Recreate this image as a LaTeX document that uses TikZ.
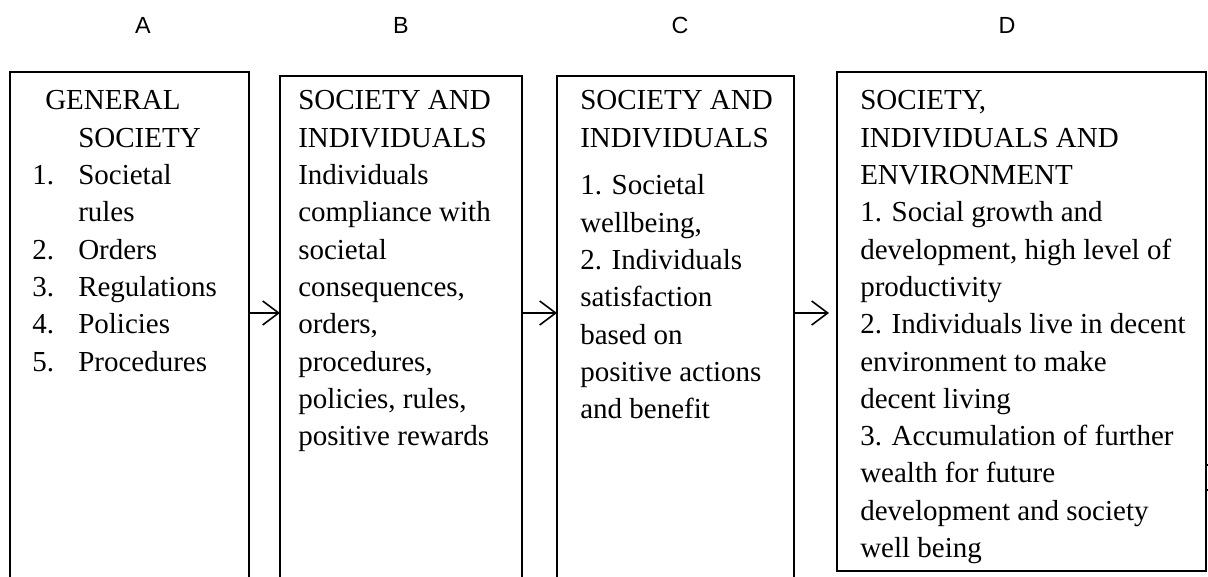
\documentclass[tikz,border=0pt]{standalone}
\usepackage{fontspec}
\setmainfont{Liberation Serif}
\newfontfamily\hdfont{Liberation Sans}
\usetikzlibrary{arrows.meta}
\begin{document}
\begin{tikzpicture}[x=0.75pt,y=-0.75pt,
  frame/.style={line width=1.5pt},
  colbox/.style={inner sep=0pt},
  txt/.style={anchor=base west, inner sep=0pt, font=\fontsize{21.75pt}{26pt}\selectfont},
  hd/.style={anchor=base, inner sep=0pt, font=\hdfont\fontsize{17.5pt}{20pt}\selectfont},
  flow/.style={line width=1.2pt, -{Straight Barb[length=12pt,width=18pt,line width=1.2pt]}}]
\useasboundingbox (0,0) rectangle (1208,577);
% column headers
\node[hd] (hA) at (143,34) {A};
\node[hd] (hB) at (401,34) {B};
\node[hd] (hC) at (680,34) {C};
\node[hd] (hD) at (1007,34) {D};
% boxes (as nodes, frames drawn from anchors)
\node[colbox, minimum width=238*0.75pt, minimum height=505*0.75pt, anchor=north west] (A) at (10,72) {};
\node[colbox, minimum width=241*0.75pt, minimum height=501*0.75pt, anchor=north west] (B) at (280,76) {};
\node[colbox, minimum width=236*0.75pt, minimum height=501*0.75pt, anchor=north west] (C) at (557,76) {};
\node[colbox, minimum width=368*0.75pt, minimum height=498*0.75pt, anchor=north west] (D) at (837,72) {};
\draw[frame] (A.south west) -- (A.north west) -- (A.north east) -- (A.south east);
\draw[frame] (B.south west) -- (B.north west) -- (B.north east) -- (B.south east);
\draw[frame] (C.south west) -- (C.north west) -- (C.north east) -- (C.south east);
\draw[frame] (D.south west) rectangle (D.north east);
% small marks at the right edge of D
\draw[line width=0.8pt] (D.east |- 0,465) -- ++(3,0);
\draw[line width=0.8pt] (D.east |- 0,490) -- ++(3,0);
% arrows
\coordinate (dIn) at (829,313);
\draw[flow] (A.east |- 0,313) -- (B.west |- 0,313);
\draw[flow] (B.east |- 0,313) -- (C.west |- 0,313);
\draw[flow] (C.east |- 0,313) -- (dIn);
% box A text
\node[txt] (a0) at (45,110) {GENERAL};
\node[txt] (a1) at (78,147.3) {SOCIETY};
\foreach \n/\y/\t in {1/184.6/{Societal}, 2/259.2/{Orders}, 3/296.5/{Regulations}, 4/333.8/{Policies}, 5/371.1/{Procedures}}{
  \node[txt] (an\n) at (32,\y) {\n.};
  \node[txt] (ai\n) at (78,\y) {\t};
}
\node[txt] (ar) at (78,221.9) {rules};
% box B text
\foreach \i/\y/\t in {1/110/{SOCIETY AND}, 2/147.3/{INDIVIDUALS}, 3/184.6/{Individuals}, 4/221.9/{compliance with}, 5/259.2/{societal}, 6/296.5/{consequences,}, 7/333.8/{orders,}, 8/371.1/{procedures,}, 9/408.4/{policies, rules,}, 10/445.7/{positive rewards}}{
  \node[txt] (b\i) at (298,\y) {\t};
}
% box C text
\foreach \i/\y/\t in {1/110/{SOCIETY AND}, 2/147.3/{INDIVIDUALS}, 3/195/{1. Societal}, 4/232.3/{wellbeing,}, 5/269.6/{2. Individuals}, 6/306.9/{satisfaction}, 7/344.2/{based on}, 8/381.5/{positive actions}, 9/418.8/{and benefit}}{
  \node[txt] (c\i) at (580,\y) {\t};
}
% box D text
\foreach \i/\y/\t in {1/110/{SOCIETY,}, 2/147.3/{INDIVIDUALS AND}, 3/184.6/{ENVIRONMENT}, 4/221.9/{1. Social growth and}, 5/259.2/{development, high level of}, 6/296.5/{productivity}, 7/333.8/{2. Individuals live in decent}, 8/371.1/{environment to make}, 9/408.4/{decent living}, 10/445.7/{3. Accumulation of further}, 11/483/{wealth for future}, 12/520.3/{development and society}, 13/557.6/{well being}}{
  \node[txt] (d\i) at (860,\y) {\t};
}
\end{tikzpicture}
\end{document}
